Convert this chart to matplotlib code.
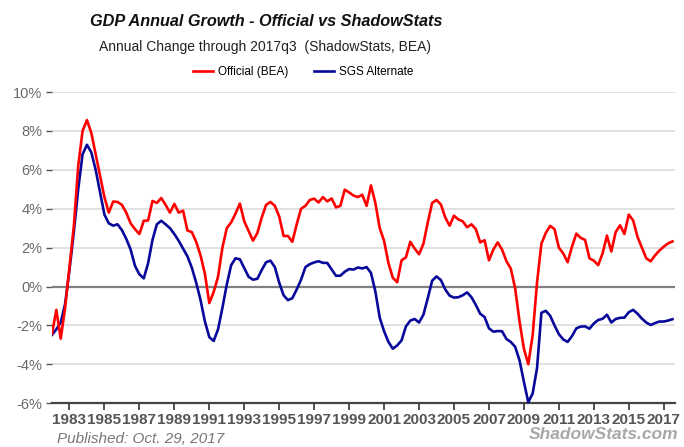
import matplotlib
matplotlib.use("Agg")
import matplotlib.pyplot as plt
import numpy as np

# Quarterly data, 1982q1 .. 2017q3 (year-over-year % change)
start_year = 1982
official_bea = [
    -2.42, -1.2, -2.68, -1.1,      # 1982
    1.0, 3.1, 6.2, 8.0,            # 1983
    8.56, 7.9, 6.8, 5.7,           # 1984
    4.6, 3.8, 4.37, 4.35,          # 1985
    4.2, 3.8, 3.25, 2.95,          # 1986
    2.7, 3.38, 3.4, 4.4,           # 1987
    4.3, 4.55, 4.2, 3.8,           # 1988
    4.25, 3.8, 3.9, 2.88,          # 1989
    2.8, 2.3, 1.6, 0.65,           # 1990
    -0.85, -0.28, 0.5, 2.0,        # 1991
    3.0, 3.3, 3.75, 4.27,          # 1992
    3.35, 2.85, 2.36, 2.75,        # 1993
    3.55, 4.2, 4.35, 4.15,         # 1994
    3.6, 2.6, 2.6, 2.3,            # 1995
    3.2, 4.0, 4.15, 4.45,          # 1996
    4.52, 4.32, 4.6, 4.38,         # 1997
    4.53, 4.07, 4.15, 4.98,        # 1998
    4.84, 4.68, 4.6, 4.72,         # 1999
    4.15, 5.2, 4.3, 3.0,           # 2000
    2.35, 1.2, 0.45, 0.22,         # 2001
    1.35, 1.5, 2.3, 1.95,          # 2002
    1.66, 2.2, 3.3, 4.3,           # 2003
    4.45, 4.22, 3.55, 3.13,        # 2004
    3.64, 3.45, 3.35, 3.05,        # 2005
    3.2, 2.95, 2.27, 2.38,         # 2006
    1.35, 1.9, 2.27, 1.9,          # 2007
    1.3, 0.92, -0.1, -1.8,         # 2008
    -3.2, -4.0, -2.5, 0.2,         # 2009
    2.2, 2.75, 3.12, 2.95,         # 2010
    2.0, 1.7, 1.25, 2.05,          # 2011
    2.72, 2.5, 2.4, 1.45,          # 2012
    1.33, 1.1, 1.7, 2.62,          # 2013
    1.8, 2.8, 3.15, 2.7,           # 2014
    3.7, 3.4, 2.55, 2.0,           # 2015
    1.45, 1.3, 1.6, 1.85,          # 2016
    2.05, 2.22, 2.32,              # 2017
]
sgs_alternate = [
    -2.49, -2.2, -1.85, -0.9,      # 1982
    0.85, 2.8, 5.0, 6.8,           # 1983
    7.29, 6.9, 6.0, 4.85,          # 1984
    3.7, 3.25, 3.13, 3.2,          # 1985
    2.9, 2.45, 1.9, 1.06,          # 1986
    0.63, 0.42, 1.2, 2.4,          # 1987
    3.2, 3.38, 3.2, 3.0,           # 1988
    2.7, 2.35, 1.95, 1.55,         # 1989
    0.97, 0.2, -0.7, -1.8,         # 1990
    -2.6, -2.8, -2.2, -1.1,        # 1991
    0.1, 1.1, 1.45, 1.4,           # 1992
    0.95, 0.5, 0.35, 0.4,          # 1993
    0.85, 1.25, 1.33, 1.0,         # 1994
    0.2, -0.45, -0.7, -0.6,        # 1995
    -0.15, 0.35, 1.0, 1.15,        # 1996
    1.24, 1.3, 1.22, 1.21,         # 1997
    0.88, 0.55, 0.56, 0.76,        # 1998
    0.9, 0.87, 0.98, 0.93,         # 1999
    1.0, 0.7, -0.25, -1.6,         # 2000
    -2.3, -2.85, -3.2, -3.03,      # 2001
    -2.77, -2.05, -1.75, -1.67,    # 2002
    -1.85, -1.45, -0.6, 0.3,       # 2003
    0.52, 0.33, -0.15, -0.47,      # 2004
    -0.57, -0.55, -0.45, -0.3,     # 2005
    -0.55, -0.95, -1.4, -1.57,     # 2006
    -2.15, -2.32, -2.29, -2.3,     # 2007
    -2.7, -2.85, -3.1, -3.8,       # 2008
    -4.9, -5.95, -5.5, -4.2,       # 2009
    -1.35, -1.25, -1.5, -2.0,      # 2010
    -2.45, -2.72, -2.85, -2.55,    # 2011
    -2.15, -2.06, -2.05, -2.17,    # 2012
    -1.9, -1.72, -1.66, -1.45,     # 2013
    -1.85, -1.67, -1.61, -1.6,     # 2014
    -1.32, -1.2, -1.4, -1.65,      # 2015
    -1.85, -1.98, -1.88, -1.8,     # 2016
    -1.8, -1.75, -1.68,            # 2017
]
year_ticks = list(range(1983, 2018, 2))
y_ticks = [-6, -4, -2, 0, 2, 4, 6, 8, 10]

t = start_year + np.arange(len(official_bea)) / 4.0

plt.rcParams['font.family'] = ['Liberation Sans', 'DejaVu Sans']

fig = plt.figure(figsize=(6.84, 4.47), dpi=100)
ax = fig.add_axes([0.076, 0.098, 0.911, 0.696])

for yv in y_ticks:
    if yv == 0:
        ax.axhline(0, color='#808080', lw=1.6, zorder=2)
    elif yv != -6:
        ax.axhline(yv, color='#dcdcdc', lw=1.2, zorder=1)

ax.plot(t, official_bea, color='#ff0000', lw=1.9, zorder=4, label='Official (BEA)')
ax.plot(t, sgs_alternate, color='#08089a', lw=1.9, zorder=3, label='SGS Alternate')

ax.set_xlim(start_year, 2017.65)
ax.set_ylim(-6, 10)
ax.set_yticks(y_ticks)
ax.set_yticklabels([f'{v}%' for v in y_ticks], color='#6a6a6a', fontsize=10.5)
ax.set_xticks(year_ticks)
ax.set_xticklabels([str(y) for y in year_ticks], fontsize=11, fontweight='bold',
                   color='#555555')
ax.tick_params(axis='y', length=4, width=1, color='#555555', pad=3)
ax.tick_params(axis='x', length=5, width=1.2, color='#333333', pad=2, direction='out')
for s in ['top', 'right', 'left']:
    ax.spines[s].set_visible(False)
ax.spines['bottom'].set_color('#444444')
ax.spines['bottom'].set_linewidth(1.6)

fig.text(0.389, 0.952, 'GDP Annual Growth - Official vs ShadowStats', ha='center',
         va='center', fontsize=11.7, fontweight='bold', style='italic', color='#111111')
fig.text(0.388, 0.895, 'Annual Change through 2017q3  (ShadowStats, BEA)', ha='center',
         va='center', fontsize=10, color='#222222')

leg = fig.legend(loc='center', bbox_to_anchor=(0.443, 0.839), ncol=2, frameon=False,
                 fontsize=8.5, handlelength=1.7, columnspacing=2.2, handletextpad=0.4)

fig.text(0.083, 0.018, 'Published: Oct. 29, 2017', ha='left', va='center', fontsize=11,
         style='italic', color='#777777')
fig.text(0.992, 0.027, 'ShadowStats.com', ha='right', va='center', fontsize=12.5,
         style='italic', fontweight='bold', color='#a8a8a8')

fig.savefig('out.png', dpi=100)
